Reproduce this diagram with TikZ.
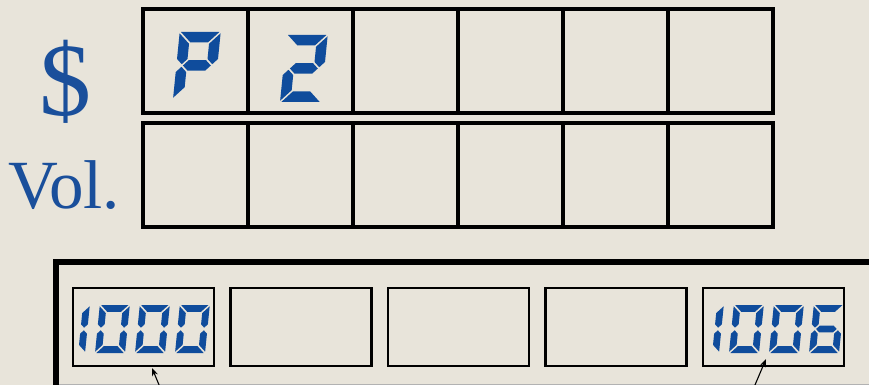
\documentclass[tikz,border=0pt]{standalone}
\usepackage{fontspec}
\setmainfont{Liberation Serif}
\usetikzlibrary{positioning,calc,arrows.meta}
\definecolor{paper}{HTML}{E8E4DA}
\definecolor{lcdblue}{HTML}{0F4C9C}
\definecolor{labelblue}{HTML}{1A4F9B}

\tikzset{lcd/.style={fill=lcdblue}}

% segments of one digit, in a frame of width \lcdW, height \lcdH
\def\lcdsega{\fill[lcd] (\lcdG,\lcdH) -- ({\lcdW-\lcdG},\lcdH) -- ({\lcdW-\lcdT-\lcdG},{\lcdH-\lcdT}) -- ({\lcdT+\lcdG},{\lcdH-\lcdT}) -- cycle;}
\def\lcdsegb{\fill[lcd] (\lcdW,{\lcdH-\lcdG}) -- ({\lcdW-\lcdT},{\lcdH-\lcdT-\lcdG}) -- ({\lcdW-\lcdT},{\lcdM+\lcdT/2+\lcdG}) -- ({\lcdW-\lcdT/2},{\lcdM+\lcdG}) -- (\lcdW,{\lcdM+\lcdT/2+\lcdG}) -- cycle;}
\def\lcdsegc{\fill[lcd] (\lcdW,\lcdG) -- ({\lcdW-\lcdT},{\lcdT+\lcdG}) -- ({\lcdW-\lcdT},{\lcdM-\lcdT/2-\lcdG}) -- ({\lcdW-\lcdT/2},{\lcdM-\lcdG}) -- (\lcdW,{\lcdM-\lcdT/2-\lcdG}) -- cycle;}
\def\lcdsegd{\fill[lcd] (\lcdG,0) -- ({\lcdW-\lcdG},0) -- ({\lcdW-\lcdT-\lcdG},\lcdT) -- ({\lcdT+\lcdG},\lcdT) -- cycle;}
\def\lcdsege{\fill[lcd] (0,\lcdG) -- (\lcdT,{\lcdT+\lcdG}) -- (\lcdT,{\lcdM-\lcdT/2-\lcdG}) -- ({\lcdT/2},{\lcdM-\lcdG}) -- (0,{\lcdM-\lcdT/2-\lcdG}) -- cycle;}
\def\lcdsegf{\fill[lcd] (0,{\lcdH-\lcdG}) -- (\lcdT,{\lcdH-\lcdT-\lcdG}) -- (\lcdT,{\lcdM+\lcdT/2+\lcdG}) -- ({\lcdT/2},{\lcdM+\lcdG}) -- (0,{\lcdM+\lcdT/2+\lcdG}) -- cycle;}
\def\lcdsegg{\fill[lcd] ({\lcdT/2+\lcdG},\lcdM) -- ({\lcdT+\lcdG},{\lcdM+\lcdT/2}) -- ({\lcdW-\lcdT-\lcdG},{\lcdM+\lcdT/2}) -- ({\lcdW-\lcdT/2-\lcdG},\lcdM) -- ({\lcdW-\lcdT-\lcdG},{\lcdM-\lcdT/2}) -- ({\lcdT+\lcdG},{\lcdM-\lcdT/2}) -- cycle;}

% #1 bottom left, #2 width, #3 height, #4 thickness, #5 segments
\newcommand{\lcddigit}[5]{%
  \begin{scope}[shift={#1}, x=1pt, y=1pt, xslant=0.1]
    \def\lcdW{#2}\def\lcdH{#3}\def\lcdT{#4}\def\lcdG{1.3}%
    \pgfmathsetmacro{\lcdM}{#3/2}%
    \foreach \sg in {#5} {\csname lcdseg\sg\endcsname}
  \end{scope}}

\begin{document}
\begin{tikzpicture}[x=1pt, y=-1pt,
    cellbox/.style={rectangle, draw, line width=3.2pt, outer sep=0pt, inner sep=0pt, minimum width=105pt, minimum height=104pt},
    readout/.style={rectangle, draw, line width=2.2pt, outer sep=0pt, inner sep=0pt, minimum width=141pt, minimum height=78pt},
    frame/.style={draw, line width=5.5pt},
    pointer/.style={-{Stealth[length=8pt, width=6pt]}, line width=1.1pt},
    tag/.style={text=labelblue, inner sep=0pt},
]
    \useasboundingbox (0,0) rectangle (869,385);
    \fill[paper] (0,0) rectangle (869,385);
    \clip (0,0) rectangle (869,385);

    \node[tag, font=\fontsize{104}{104}\selectfont, anchor=base] (dollar) at (65,116) {\$};
    \node[tag, font=\fontsize{69}{69}\selectfont, anchor=base west] (vol) at (8,208) {Vol.};

    \node[cellbox] (usd1) at (195.5,61) {};
    \node[cellbox, right=0pt of usd1] (usd2) {};
    \node[cellbox, right=0pt of usd2] (usd3) {};
    \node[cellbox, right=0pt of usd3] (usd4) {};
    \node[cellbox, right=0pt of usd4] (usd5) {};
    \node[cellbox, right=0pt of usd5] (usd6) {};
    \node[cellbox, below=10pt of usd1] (vol1) {};
    \node[cellbox, right=0pt of vol1] (vol2) {};
    \node[cellbox, right=0pt of vol2] (vol3) {};
    \node[cellbox, right=0pt of vol3] (vol4) {};
    \node[cellbox, right=0pt of vol4] (vol5) {};
    \node[cellbox, right=0pt of vol5] (vol6) {};

    \lcddigit{($(usd1.south west)+(30,-14)$)}{41}{67}{10.5}{a,b,f,g,e}
    \lcddigit{($(usd2.south west)+(32,-11)$)}{41}{67}{10.5}{a,b,g,e,d}

    \draw[frame] (56,395) -- (56,262) -- (875,262);
    \draw[gray!60, line width=0.8pt] (59,384.6) -- (869,384.6);

    \node[readout] (cellA) at (143.5,327) {};
    \node[readout, right=16.5pt of cellA] (cellB) {};
    \node[readout, right=16.5pt of cellB] (cellC) {};
    \node[readout, right=16.5pt of cellC] (cellD) {};
    \node[readout, right=16.5pt of cellD] (cellE) {};

    \begin{scope}
        \clip (cellA.south west) rectangle (cellA.north east);
        \lcddigit{($(cellA.south west)+(-18,-13)$)}{30}{48}{6.8}{b,c}
        \lcddigit{($(cellA.south west)+(22,-13)$)}{30}{48}{6.8}{a,b,c,d,e,f}
        \lcddigit{($(cellA.south west)+(62,-13)$)}{30}{48}{6.8}{a,b,c,d,e,f}
        \lcddigit{($(cellA.south west)+(102,-13)$)}{30}{48}{6.8}{a,b,c,d,e,f}
    \end{scope}
    \begin{scope}
        \clip (cellE.south west) rectangle (cellE.north east);
        \lcddigit{($(cellE.south west)+(-14,-13)$)}{30}{48}{6.8}{b,c}
        \lcddigit{($(cellE.south west)+(26,-13)$)}{30}{48}{6.8}{a,b,c,d,e,f}
        \lcddigit{($(cellE.south west)+(66,-13)$)}{30}{48}{6.8}{a,b,c,d,e,f}
        \lcddigit{($(cellE.south west)+(106,-13)$)}{30}{48}{6.8}{a,c,d,e,f,g}
    \end{scope}

    \coordinate (tailA) at (162,392);
    \coordinate (tailE) at (752,392);
    \draw[pointer] (tailA) -- ([xshift=8.5pt, yshift=-2pt]cellA.south);
    \draw[pointer] (tailE) -- ([xshift=-7.5pt, yshift=7pt]cellE.south);
\end{tikzpicture}
\end{document}
